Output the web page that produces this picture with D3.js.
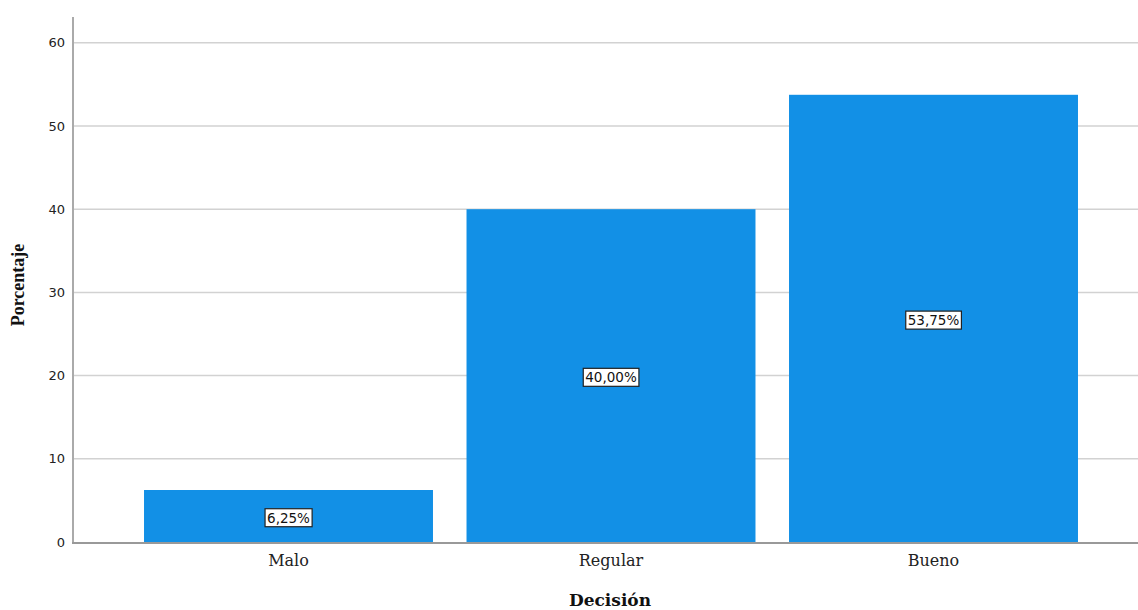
<!DOCTYPE html>
<html><head><meta charset="utf-8">
<script src="https://cdn.jsdelivr.net/npm/d3@7"></script>
<style>body{margin:0;background:#fff;}svg{display:block;}</style>
</head><body>
<svg id="c" width="1138" height="610"></svg>
<script>
const categories = ["Malo", "Regular", "Bueno"];
const values = [6.25, 40.00, 53.75];
const labels = ["6,25%", "40,00%", "53,75%"];
const yTicks = [0, 10, 20, 30, 40, 50, 60];

(function () {
const svg = d3.select("#c");
const mLeft = 73, mRight = 1138, mTop = 17, mBottom = 542;

const x = d3.scaleBand().domain(categories).range([127.25, 1094.75]).paddingInner(0.104).paddingOuter(0.052);
const y = d3.scaleLinear().domain([0, 63.1]).range([mBottom, mTop]);

// gridlines
svg.append("g").selectAll("line").data(yTicks.filter(d => d > 0)).join("line")
  .attr("x1", mLeft).attr("x2", mRight)
  .attr("y1", d => y(d)).attr("y2", d => y(d))
  .attr("stroke", "#d2d2d2").attr("stroke-width", 1.5);

// bars
svg.append("g").selectAll("rect").data(values).join("rect")
  .attr("x", (d, i) => x(categories[i]))
  .attr("width", x.bandwidth())
  .attr("y", d => y(d))
  .attr("height", d => mBottom - y(d))
  .attr("fill", "#1290e6");

// y axis
const yAxis = d3.axisLeft(y).tickValues(yTicks).tickSize(0).tickPadding(8);
const gy = svg.append("g").attr("transform", `translate(${mLeft},0)`).call(yAxis);
gy.select(".domain").remove();
gy.selectAll("text").attr("font-family", "'DejaVu Sans', sans-serif").attr("font-size", 13).attr("fill", "#222");
svg.append("line").attr("x1", mLeft).attr("x2", mLeft).attr("y1", mTop).attr("y2", mBottom + 1)
  .attr("stroke", "#aaa").attr("stroke-width", 2);

// x axis
const xAxis = d3.axisBottom(x).tickSize(0).tickPadding(13);
const gx = svg.append("g").attr("transform", `translate(0,${mBottom})`).call(xAxis);
gx.select(".domain").remove();
gx.selectAll("text").attr("font-family", "'DejaVu Serif', serif").attr("font-size", 16).attr("fill", "#222");
svg.append("line").attr("x1", mLeft - 1).attr("x2", mRight).attr("y1", mBottom + 1).attr("y2", mBottom + 1)
  .attr("stroke", "#999").attr("stroke-width", 2);

// data labels
const lg = svg.append("g").selectAll("g").data(values).join("g")
  .attr("transform", (d, i) => `translate(${x(categories[i]) + x.bandwidth() / 2},${y(d / 2) + 2})`);
lg.each(function(d, i) {
  const g = d3.select(this);
  const t = g.append("text").text(labels[i]).attr("text-anchor", "middle").attr("dy", "0.35em")
    .attr("font-family", "'DejaVu Sans', sans-serif").attr("font-size", 13.5).attr("fill", "#111");
  const bb = t.node().getBBox();
  g.insert("rect", "text").attr("x", bb.x - 2).attr("y", bb.y - 1).attr("width", bb.width + 4).attr("height", bb.height + 2)
    .attr("fill", "#fff").attr("stroke", "#222").attr("stroke-width", 1.2);
});

// axis titles
svg.append("text").attr("x", 610).attr("y", 606).attr("text-anchor", "middle")
  .attr("font-family", "'DejaVu Serif', serif").attr("font-weight", "bold").attr("font-size", 17).attr("fill", "#111")
  .text("Decisión");
svg.append("text").attr("transform", `translate(24,${285}) rotate(-90)`).attr("text-anchor", "middle")
  .attr("font-family", "'Liberation Serif', serif").attr("font-weight", "bold").attr("font-size", 18).attr("fill", "#111")
  .text("Porcentaje");
})();
</script>
</body></html>
